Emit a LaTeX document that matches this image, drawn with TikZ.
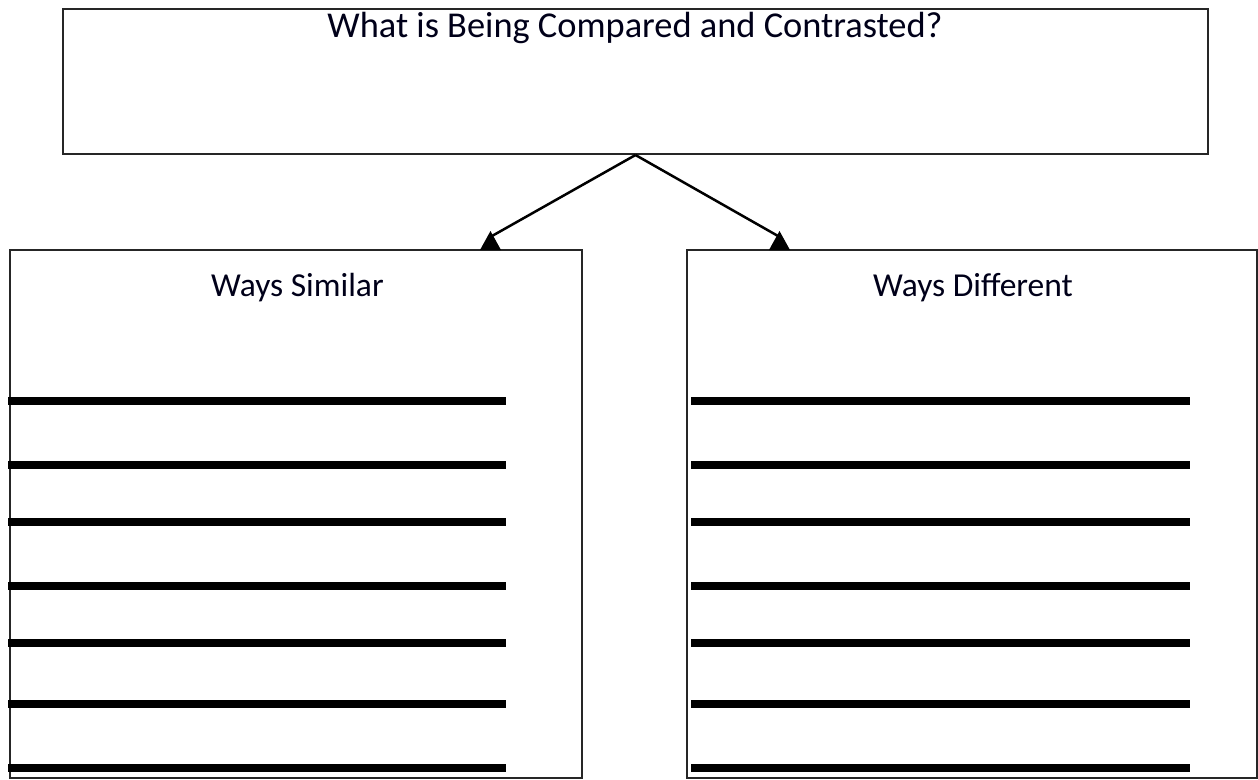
\documentclass[tikz,border=0pt]{standalone}
\usepackage{fontspec}
\setmainfont{Carlito}
\begin{document}
\begin{tikzpicture}[x=1pt,y=-1pt,
  box/.style={draw=black!85,line width=2pt,rectangle,inner sep=0pt},
  heading/.style={font=\fontsize{33.5}{40}\selectfont,text=black!90!blue,anchor=base,inner sep=0pt},
  bigheading/.style={heading,font=\fontsize{36.4}{44}\selectfont},
  conn/.style={draw=black,line width=2.5pt},
  tip/.style={fill=black,draw=none},
  rule/.style={draw=black,line width=8pt}]
\useasboundingbox (0,0) rectangle (1258,779);
% boxes
\node[box,minimum width=1145pt,minimum height=145pt] (top) at (635.5,81.5) {};
\node[box,minimum width=572pt,minimum height=528pt] (left) at (296,514) {};
\node[box,minimum width=570pt,minimum height=528pt] (right) at (972,514) {};
% headings
\node[bigheading] (ttop) at (635,37) {What is Being Compared and Contrasted?};
\node[heading] (tleft) at (297.5,296) {Ways Similar};
\node[heading] (tright) at (973,296) {Ways Different};
% connectors
\coordinate (al) at (492,236);
\coordinate (ar) at (778,236);
\draw[conn] (top.south) -- (al);
\draw[conn] (top.south) -- (ar);
\fill[tip] (480,250) -- (490.5,231) -- (501,250) -- cycle;
\fill[tip] (769,250) -- (779.5,231) -- (790,250) -- cycle;
% writing lines
\foreach \y in {400.5,465,521.5,586,643,704,768}{
  \draw[rule] (8,\y) -- (506,\y);
  \draw[rule] (691,\y) -- (1190,\y);
}
\end{tikzpicture}
\end{document}
